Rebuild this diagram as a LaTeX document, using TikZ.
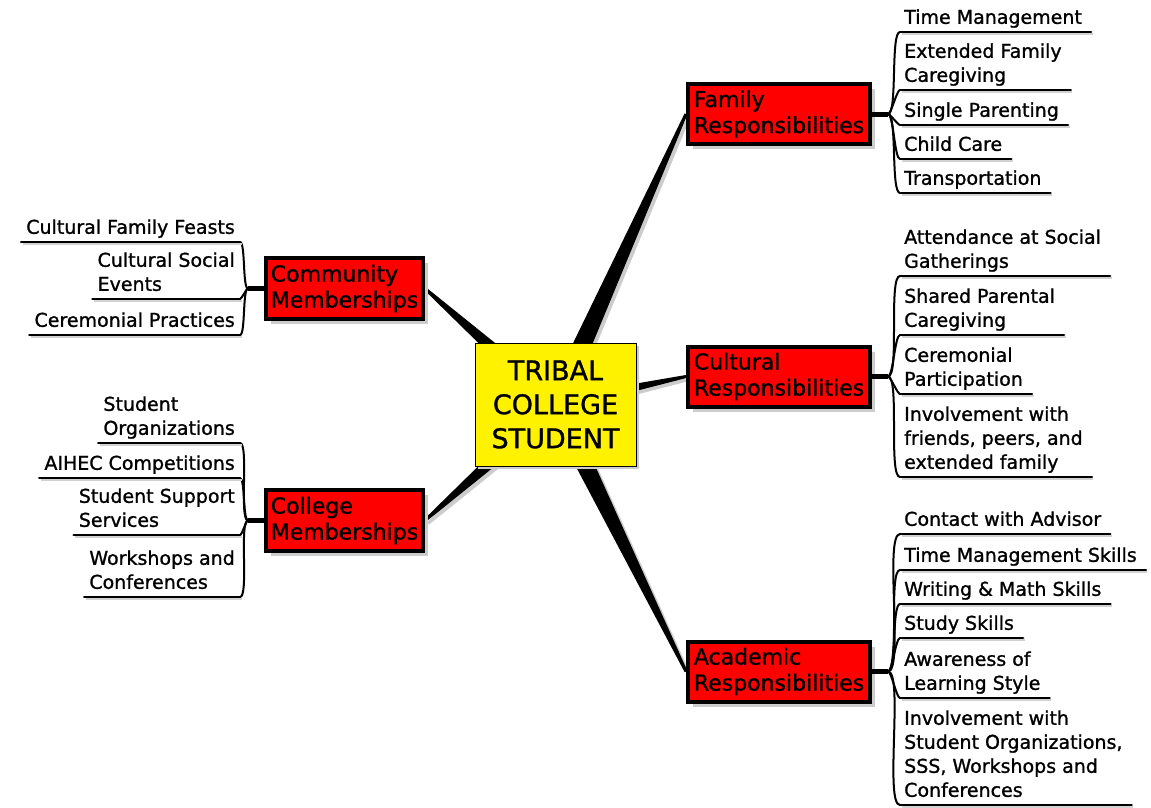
\documentclass[tikz,border=0pt]{standalone}
\usepackage{fontspec}
\setmainfont{DejaVu Sans}[BoldFont=DejaVu Sans, BoldFeatures={FakeBold=1.2}]
\usetikzlibrary{calc,shadows,backgrounds}
\tikzset{
  hub/.style={draw=black, line width=1pt, fill=yellow, minimum width=161pt, minimum height=123pt,
    align=center, font=\fontsize{27}{34}\selectfont\bfseries,
    drop shadow={shadow xshift=3pt, shadow yshift=-3pt, fill=gray!40, opacity=1}},
  branch/.style={draw=black, line width=4pt, fill=red, minimum height=60pt, align=left, inner xsep=2pt,
    font=\fontsize{22}{26}\selectfont\bfseries,
    drop shadow={shadow xshift=5pt, shadow yshift=-5pt, fill=gray!40, opacity=1}},
  leafr/.style={anchor=south west, align=left, inner xsep=4pt, inner ysep=3pt, text depth=5pt,
    font=\fontsize{19}{24}\selectfont\bfseries},
  leafl/.style={leafr, anchor=south east, inner xsep=5pt},
  uline/.style={line width=2.5pt, line cap=round,
    preaction={draw=gray!35, line width=2.5pt, transform canvas={shift={(1.5pt,-2pt)}}}},
  fan/.style={line width=2pt, looseness=0.3},
  stub/.style={line width=5pt},
}
\begin{document}
\begin{tikzpicture}[x=1pt,y=-1pt]
\useasboundingbox (0,0) rectangle (1151,808);
% centre and branches
\node[hub] (tcs) at (555.5,404.5) {TRIBAL\\COLLEGE\\STUDENT};
\node[branch, minimum width=182pt] (fam) at (779,114) {Family\\Responsibilities};
\node[branch, minimum width=182pt] (cul) at (779,376.5) {Cultural\\Responsibilities};
\node[branch, minimum width=182pt] (aca) at (779,671.5) {Academic\\Responsibilities};
\node[branch, minimum width=157pt, minimum height=61pt] (com) at (344.5,288.5) {Community\\Memberships};
\node[branch, minimum width=157pt, minimum height=61pt] (col) at (344.5,520.5) {College\\Memberships};
% tapered links behind the boxes
\begin{scope}[on background layer]
\foreach \b/\a/\w in {fam/west/11, cul/west/7, aca/west/11, com/east/10, col/east/10}{
  \fill[gray!40, transform canvas={shift={(3pt,-3pt)}}] ($(tcs.center)!\w pt!90:(\b.\a)$) -- ($(\b.\a)!1.5pt!-90:(tcs.center)$)
    -- ($(\b.\a)!1.5pt!90:(tcs.center)$) -- ($(tcs.center)!\w pt!-90:(\b.\a)$) -- cycle;
  \fill[black] ($(tcs.center)!\w pt!90:(\b.\a)$) -- ($(\b.\a)!1.5pt!-90:(tcs.center)$)
    -- ($(\b.\a)!1.5pt!90:(tcs.center)$) -- ($(tcs.center)!\w pt!-90:(\b.\a)$) -- cycle;
}
\end{scope}
% family
\node[leafr] (famA) at (900,32) {Time Management};
\node[leafr] (famB) at (900,90) {Extended Family\\Caregiving};
\node[leafr] (famC) at (900,125) {Single Parenting};
\node[leafr] (famD) at (900,159) {Child Care};
\node[leafr] (famE) at (900,193) {Transportation};
% cultural
\node[leafr] (culA) at (900,276) {Attendance at Social\\Gatherings};
\node[leafr] (culB) at (900,335) {Shared Parental\\Caregiving};
\node[leafr] (culC) at (900,394) {Ceremonial\\Participation};
\node[leafr] (culD) at (900,477) {Involvement with\\friends, peers, and\\extended family};
% academic
\node[leafr] (acaA) at (900,534) {Contact with Advisor};
\node[leafr] (acaB) at (900,570) {Time Management Skills};
\node[leafr] (acaC) at (900,604) {Writing \& Math Skills};
\node[leafr] (acaD) at (900,638) {Study Skills};
\node[leafr] (acaE) at (900,698) {Awareness of\\Learning Style};
\node[leafr] (acaF) at (900,805) {Involvement with\\Student Organizations,\\SSS, Workshops and\\Conferences};
% community
\node[leafl] (comA) at (240,242) {Cultural Family Feasts};
\node[leafl] (comB) at (240,299) {Cultural Social\\Events};
\node[leafl] (comC) at (240,335) {Ceremonial Practices};
% college
\node[leafl] (colA) at (240,443) {Student\\Organizations};
\node[leafl] (colB) at (240,478) {AIHEC Competitions};
\node[leafl] (colC) at (240,535) {Student Support\\Services};
\node[leafl] (colD) at (240,597) {Workshops and\\Conferences};
% fans
\foreach \b in {fam,cul,aca}{
  \coordinate (\b j) at ($(\b.east)+(16,0)$);
  \draw[stub] (\b.east) -- (\b j);
}
\foreach \b in {com,col}{
  \coordinate (\b j) at ($(\b.west)+(-16,0)$);
  \draw[stub] (\b.west) -- (\b j);
}
\foreach \b/\l in {fam/famA,fam/famB,fam/famC,fam/famD,fam/famE,cul/culA,cul/culB,cul/culC,cul/culD,
  aca/acaA,aca/acaB,aca/acaC,aca/acaD,aca/acaE,aca/acaF}{
  \draw[fan] (\b j) to[out=0,in=180] (\l.south west);
  \draw[uline] (\l.south west) -- ([xshift=5pt]\l.south east);
}
\foreach \b/\l in {com/comA,com/comB,com/comC,col/colA,col/colB,col/colC,col/colD}{
  \draw[fan] (\b j) to[out=180,in=0] (\l.south east);
  \draw[uline] (\l.south west) -- (\l.south east);
}
\end{tikzpicture}
\end{document}
